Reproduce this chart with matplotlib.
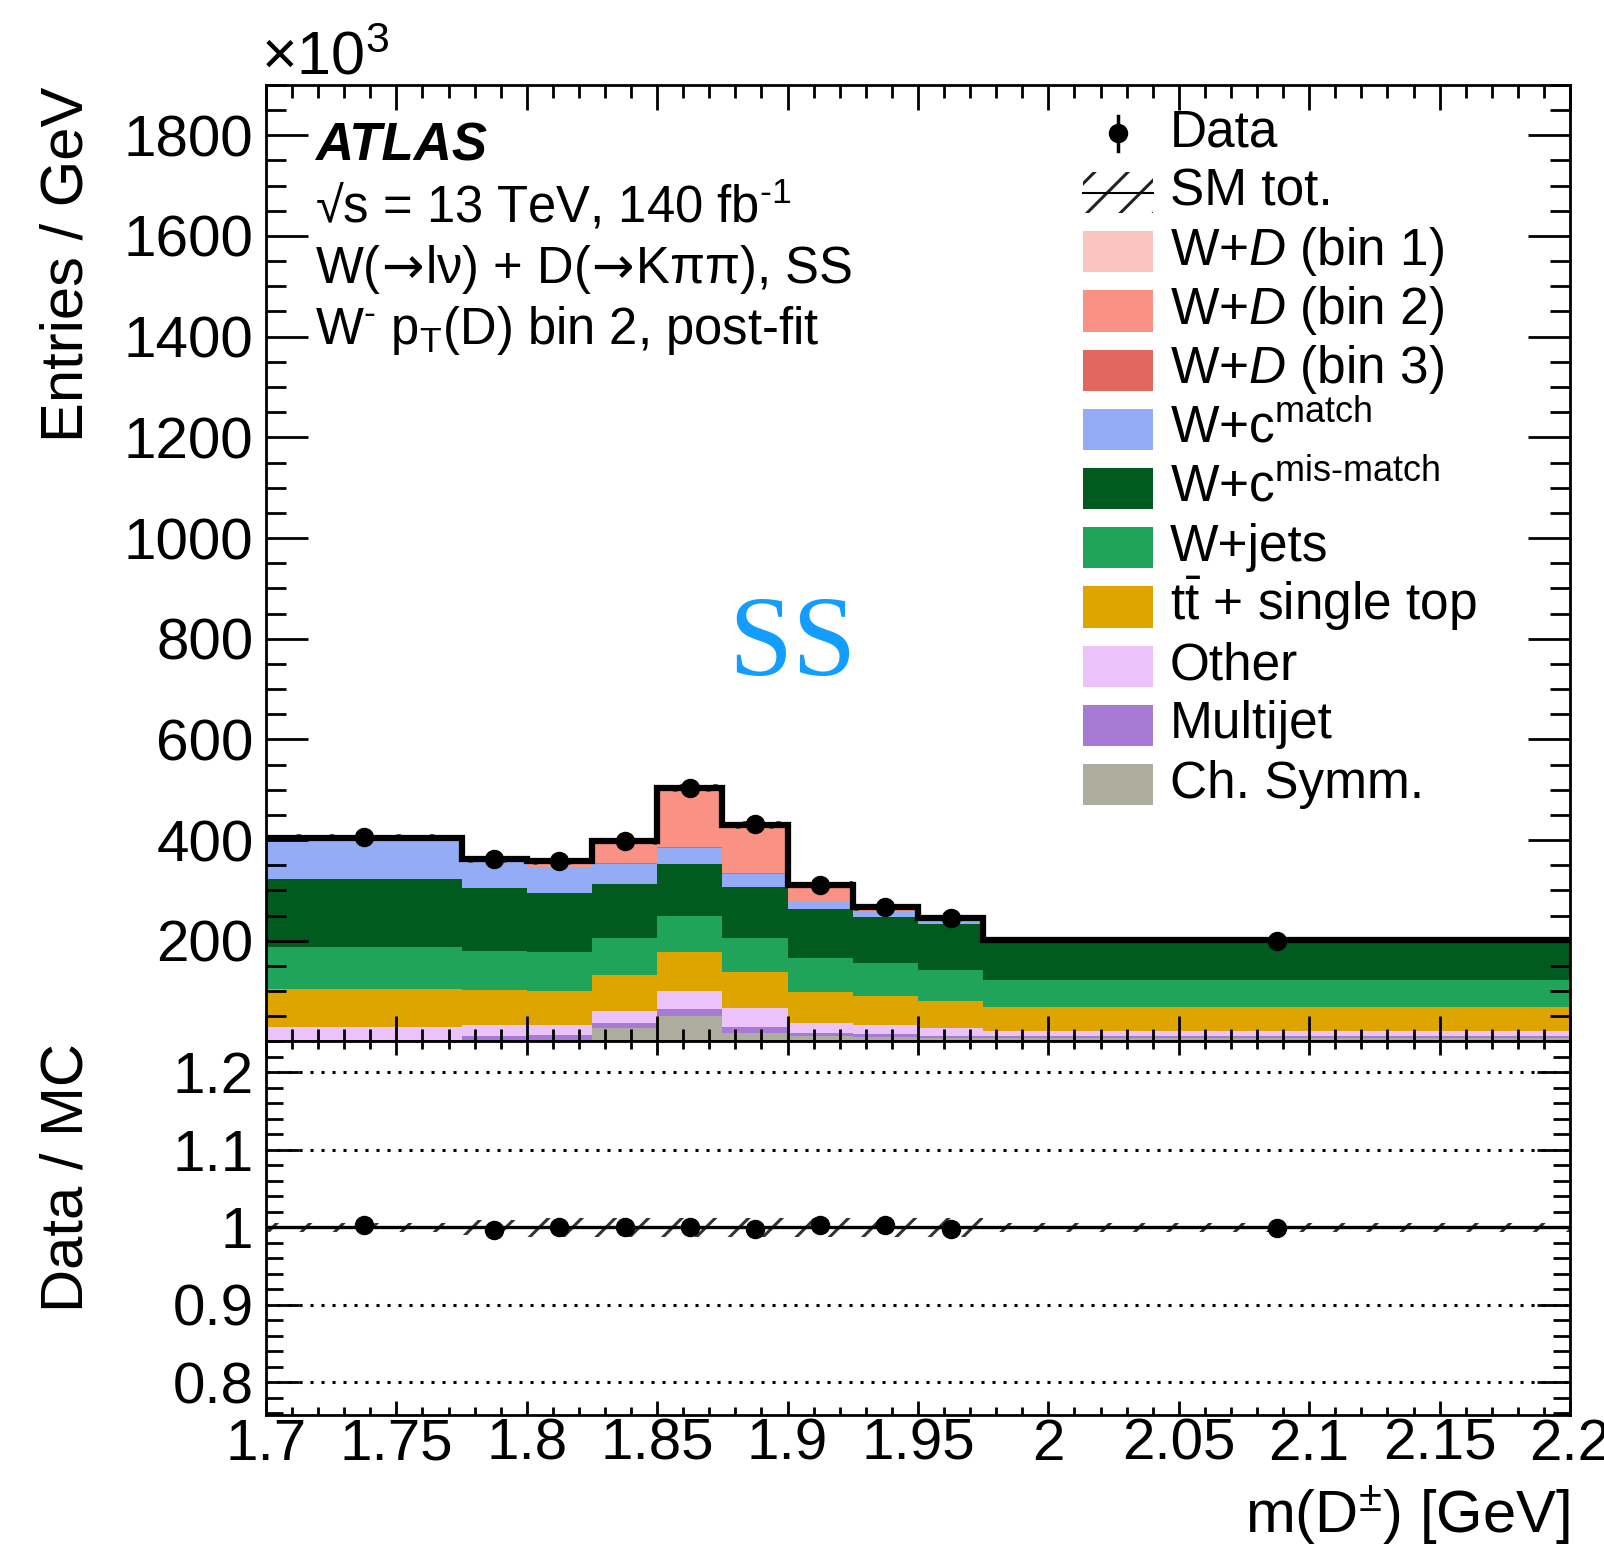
import numpy as np
import matplotlib
matplotlib.use("Agg")
import matplotlib.pyplot as plt
from matplotlib.patches import Rectangle
from matplotlib.ticker import MultipleLocator, FixedLocator, FuncFormatter

plt.rcParams['font.family'] = ['Liberation Sans', 'DejaVu Sans']
plt.rcParams['mathtext.fontset'] = 'custom'
plt.rcParams['mathtext.rm'] = 'Liberation Sans'
plt.rcParams['mathtext.it'] = 'Liberation Sans:italic'
plt.rcParams['mathtext.bf'] = 'Liberation Sans:bold'
plt.rcParams['mathtext.sf'] = 'DejaVu Sans'
plt.rcParams['hatch.linewidth'] = 2.2

# m(D) binning [GeV]
bin_edges = [1.7, 1.775, 1.8, 1.825, 1.85, 1.875, 1.9, 1.925, 1.95, 1.975, 2.2]

# entries / GeV in units of 10^3
data_vals = [406, 363, 358, 398, 504, 431, 311, 267, 246, 200]
data_err = [2.3, 3.8, 3.8, 4.0, 4.5, 4.1, 3.5, 3.3, 3.1, 0.9]
data_ratio = [1.003, 0.996, 1.000, 1.001, 1.000, 0.998, 1.003, 1.003, 0.998, 0.999]
ratio_err = [0.004, 0.006, 0.006, 0.006, 0.005, 0.006, 0.007, 0.007, 0.007, 0.003]
ratio_unc = [0.006, 0.010, 0.012, 0.012, 0.012, 0.012, 0.012, 0.012, 0.012, 0.006]
sm_unc = [7, 7, 7, 7, 8, 8, 7, 7, 7, 6]

# post-fit samples, stacked bottom -> top
chsymm = [1, 2, 3, 26, 51, 16, 10, 9, 6, 6]
multijet = [1, 9, 9, 10, 13, 12, 7.5, 6, 5.5, 5]
other = [27, 22, 21, 25, 36, 39, 19.5, 18, 14.5, 10]
ttbar = [75, 69, 68, 71, 77, 71, 61, 57, 54.5, 48]
wjets = [84, 77, 76, 74, 73, 68, 67, 65, 61.5, 53]
wc_mis = [135, 125, 117, 107, 103, 100, 98, 93, 91.5, 78]
wc_match = [81, 56, 52, 40, 31, 27, 16, 10, 10.5, 0.5]
wd_bin3 = [0, 0, 1, 1, 2, 1, 0, 0, 0, 0]
wd_bin2 = [1, 2, 11, 43, 116, 95, 32, 9, 2, 0.5]
wd_bin1 = [0, 0, 0, 1, 2, 1, 0, 0, 0, 0]

stack_vals = [chsymm, multijet, other, ttbar, wjets, wc_mis, wc_match, wd_bin3, wd_bin2, wd_bin1]
stack_colors = ['#acad9c', '#a77ad6', '#ebc3fa', '#dea400', '#20a35a', '#015b1e',
                '#94acf6', '#e2675f', '#fa9185', '#fac5bf']

legend_labels = ['W+$D$ (bin 1)', 'W+$D$ (bin 2)', 'W+$D$ (bin 3)',
                 'W+c$^{\\mathrm{match}}$', 'W+c$^{\\mathrm{mis\\text{-}match}}$',
                 'W+jets', 't$\\bar{\\mathrm{t}}$ + single top', 'Other', 'Multijet', 'Ch. Symm.']
legend_colors = stack_colors[::-1]

edges = np.array(bin_edges)
centers = 0.5 * (edges[1:] + edges[:-1])

fig = plt.figure(figsize=(16.04, 15.47), dpi=100)
ax = fig.add_axes([0.1658, 0.3268, 0.8130, 0.6183])
axr = fig.add_axes([0.1658, 0.0855, 0.8130, 0.2413])

base = np.zeros(len(data_vals))
for vals, col in zip(stack_vals, stack_colors):
    top = base + np.array(vals, dtype=float)
    ax.stairs(top, edges, baseline=base, fill=True, facecolor=col, edgecolor='none', lw=0)
    base = top
total = base
unc = np.array(sm_unc, dtype=float)
ax.stairs(total + unc, edges, baseline=total - unc, fill=True, facecolor='none',
          edgecolor='#555555', hatch='/', lw=0)
ax.stairs(total, edges, baseline=None, color='k', lw=4.5)
ax.errorbar(centers, data_vals, yerr=data_err, fmt='o', color='k', ms=13, elinewidth=2.5, capsize=0)

ax.set_xlim(1.7, 2.2)
ax.set_ylim(0, 1900)

# ratio panel
runc = np.array(ratio_unc)
axr.stairs(1 + runc, edges, baseline=1 - runc, fill=True, facecolor='none',
           edgecolor='#333333', hatch='/', lw=0)
axr.axhline(1.0, color='k', lw=2.4)
for yl in (0.8, 0.9, 1.1, 1.2):
    axr.axhline(yl, color='k', lw=2.2, ls=(0, (1, 2.6)))
axr.errorbar(centers, data_ratio, yerr=ratio_err, fmt='o', color='k', ms=13, elinewidth=2.5, capsize=0)
axr.set_xlim(1.7, 2.2)
axr.set_ylim(0.758, 1.24)

for a in (ax, axr):
    a.tick_params(which='both', direction='in', top=True, right=True, width=2, labelsize=42)
    for s in a.spines.values():
        s.set_linewidth(2)
    a.xaxis.set_major_locator(MultipleLocator(0.05))
    a.xaxis.set_minor_locator(MultipleLocator(0.01))

ax.yaxis.set_major_locator(FixedLocator([200, 400, 600, 800, 1000, 1200, 1400, 1600, 1800]))
ax.yaxis.set_minor_locator(MultipleLocator(50))
ax.tick_params(axis='y', which='major', length=30, pad=9)
ax.tick_params(axis='y', which='minor', length=14.5)
ax.tick_params(axis='x', which='major', length=18, labelbottom=False)
ax.tick_params(axis='x', which='minor', length=9)

axr.yaxis.set_major_locator(FixedLocator([0.8, 0.9, 1.0, 1.1, 1.2]))
axr.yaxis.set_minor_locator(MultipleLocator(0.02))
axr.yaxis.set_major_formatter(FuncFormatter(lambda v, p: '{:g}'.format(round(v, 2))))
axr.xaxis.set_major_formatter(FuncFormatter(lambda v, p: '{:g}'.format(round(v, 2))))
axr.tick_params(axis='y', which='major', length=24, pad=9)
axr.tick_params(axis='y', which='minor', length=12)
axr.tick_params(axis='x', which='major', length=10, pad=2)
axr.tick_params(axis='x', which='minor', length=6)

# labels
fig.text(0.0415, 0.9438, 'Entries / GeV', rotation=90, ha='center', va='top', fontsize=43)
fig.text(0.0415, 0.3258, 'Data / MC', rotation=90, ha='center', va='top', fontsize=43)
fig.text(0.9788, 0.009, 'm(D$^{\\pm}$) [GeV]', ha='right', va='baseline', fontsize=43)
fig.text(0.1625, 0.9517, '×10$^{3}$', ha='left', va='baseline', fontsize=44)

tx = 0.0376
tfs = 36.5
arrow = '$\\!\\mathsf{\\rightarrow}\\!$'
ax.text(tx, 0.921, 'ATLAS', transform=ax.transAxes, fontsize=38, fontweight='bold',
        fontstyle='italic', va='baseline')
ax.text(tx, 0.856, '√s = 13 TeV, 140 fb$^{\\text{-}1}$', transform=ax.transAxes, fontsize=tfs,
        va='baseline')
ax.text(tx, 0.793, 'W(' + arrow + 'lν) + D(' + arrow + 'Kππ), SS', transform=ax.transAxes,
        fontsize=tfs, va='baseline')
ax.text(tx, 0.729, 'W$^{\\text{-}}$ p$_{\\mathrm{T}}$(D) bin 2, post-fit', transform=ax.transAxes,
        fontsize=tfs, va='baseline')
ax.text(1.9017, 728, 'SS', fontsize=83, color='#129dff', family=['Liberation Serif', 'DejaVu Serif'],
        ha='center', va='baseline')

# legend, drawn by hand to match ROOT layout
bx, bw, bh = 0.6263, 0.0542, 0.0430
lx = 0.6933
y0, dy = 0.9494, 0.0619
base_off = 0.0136
lfs = 37
ax.plot([bx + bw / 2] * 2, [y0 - bh * 0.42, y0 + bh * 0.42], color='k', lw=2.5,
        transform=ax.transAxes)
ax.plot([bx + bw / 2], [y0], 'o', color='k', ms=13, transform=ax.transAxes)
ax.text(lx, y0 - base_off, 'Data', transform=ax.transAxes, fontsize=lfs, va='baseline')
ys = y0 - dy
ax.add_patch(Rectangle((bx, ys - bh / 2), bw, bh, transform=ax.transAxes, facecolor='none',
                       edgecolor='#222222', hatch='/', lw=0))
ax.plot([bx, bx + bw], [ys, ys], color='k', lw=1.5, transform=ax.transAxes)
ax.text(lx, ys - base_off, 'SM tot.', transform=ax.transAxes, fontsize=lfs, va='baseline')
for i, (lab, col) in enumerate(zip(legend_labels, legend_colors)):
    yc = y0 - (i + 2) * dy
    ax.add_patch(Rectangle((bx, yc - bh / 2), bw, bh, transform=ax.transAxes,
                           facecolor=col, edgecolor='none'))
    ax.text(lx, yc - base_off, lab, transform=ax.transAxes, fontsize=lfs, va='baseline')

fig.savefig('out.png', dpi=100)
